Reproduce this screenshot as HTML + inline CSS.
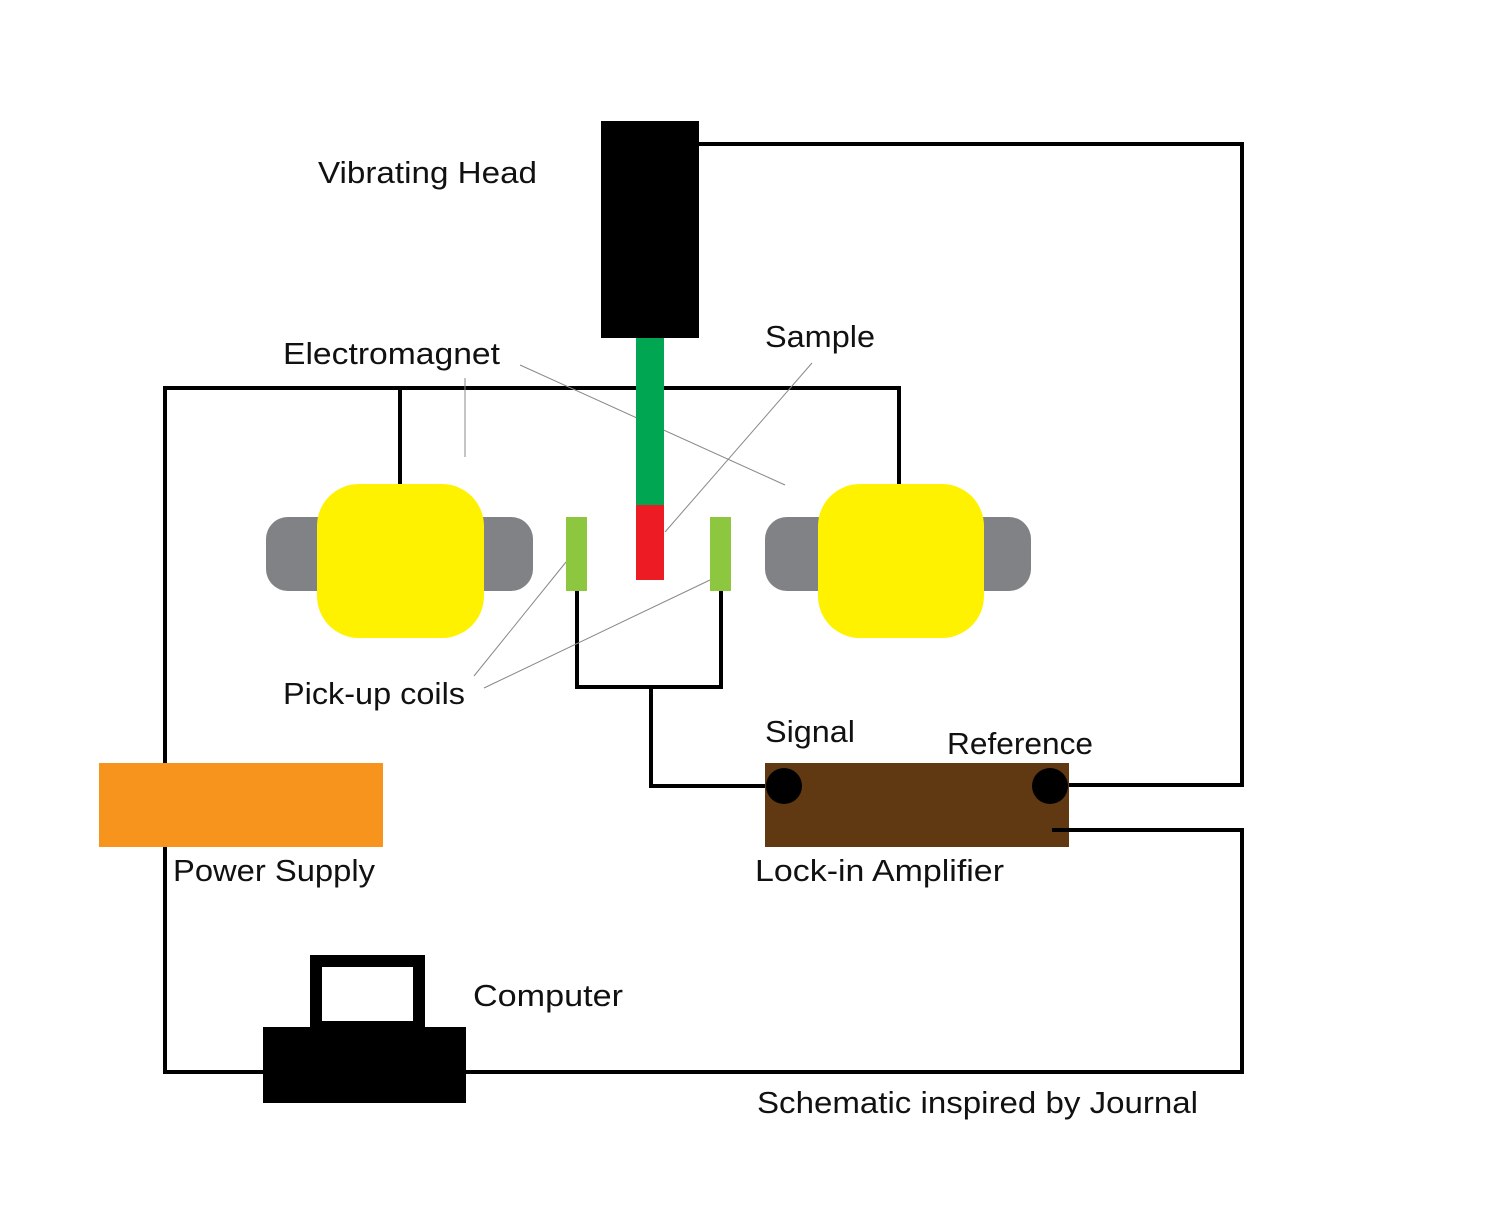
<!DOCTYPE html>
<html><head><meta charset="utf-8"><style>
html,body{margin:0;padding:0;background:#fff;}
svg{display:block;}
text{font-family:"Liberation Sans",sans-serif;font-size:31px;fill:#111;}
</style></head><body>
<svg width="1500" height="1206" viewBox="0 0 1500 1206" xmlns="http://www.w3.org/2000/svg">
<g fill="none" stroke="#000" stroke-width="4">
<polyline points="699,144 1242,144 1242,785 1068,785"/>
<polyline points="1052,830 1242,830 1242,1072 466,1072"/>
<polyline points="263,1072 165,1072 165,847"/>
<polyline points="165,763 165,388 899,388 899,485"/>
<line x1="400" y1="388" x2="400" y2="485"/>
<polyline points="577,591 577,687 721,687 721,591"/>
<polyline points="651,687 651,786 783,786"/>
</g>
<g stroke="#888" stroke-width="1" fill="none">
<line x1="520" y1="365" x2="785" y2="485"/>
<line x1="465" y1="378" x2="465" y2="457"/>
<line x1="812" y1="363" x2="665" y2="532"/>
<line x1="474" y1="676" x2="566" y2="562"/>
<line x1="484" y1="688" x2="710" y2="580"/>
</g>
<rect x="601" y="121" width="98" height="217" fill="#000"/>
<rect x="636" y="338" width="28" height="167" fill="#00a651"/>
<rect x="636" y="505" width="28" height="75" fill="#ed1c24"/>
<rect x="266" y="517" width="267" height="74" rx="22" fill="#808285"/>
<rect x="317" y="484" width="167" height="154" rx="42" fill="#fff200"/>
<rect x="765" y="517" width="266" height="74" rx="22" fill="#808285"/>
<rect x="818" y="484" width="166" height="154" rx="42" fill="#fff200"/>
<rect x="566" y="517" width="21" height="74" fill="#8dc63f"/>
<rect x="710" y="517" width="21" height="74" fill="#8dc63f"/>
<rect x="765" y="763" width="304" height="84" fill="#603913"/>
<circle cx="784" cy="786" r="18" fill="#000"/>
<circle cx="1050" cy="786" r="18" fill="#000"/>
<line x1="1052" y1="830" x2="1069" y2="830" stroke="#000" stroke-width="4"/>
<rect x="99" y="763" width="284" height="84" fill="#f7941d"/>
<rect x="316" y="961" width="103" height="66" fill="none" stroke="#000" stroke-width="12"/>
<rect x="263" y="1027" width="203" height="76" fill="#000"/>
<text x="318" y="183" textLength="219" lengthAdjust="spacingAndGlyphs">Vibrating Head</text>
<text x="283" y="364" textLength="217" lengthAdjust="spacingAndGlyphs">Electromagnet</text>
<text x="765" y="347" textLength="110" lengthAdjust="spacingAndGlyphs">Sample</text>
<text x="283" y="704" textLength="182" lengthAdjust="spacingAndGlyphs">Pick-up coils</text>
<text x="765" y="742" textLength="90" lengthAdjust="spacingAndGlyphs">Signal</text>
<text x="947" y="754" textLength="146" lengthAdjust="spacingAndGlyphs">Reference</text>
<text x="173" y="881" textLength="202" lengthAdjust="spacingAndGlyphs">Power Supply</text>
<text x="755" y="881" textLength="249" lengthAdjust="spacingAndGlyphs">Lock-in Amplifier</text>
<text x="473" y="1006" textLength="150" lengthAdjust="spacingAndGlyphs">Computer</text>
<text x="757" y="1113" textLength="441" lengthAdjust="spacingAndGlyphs">Schematic inspired by Journal</text>
</svg>
</body></html>
